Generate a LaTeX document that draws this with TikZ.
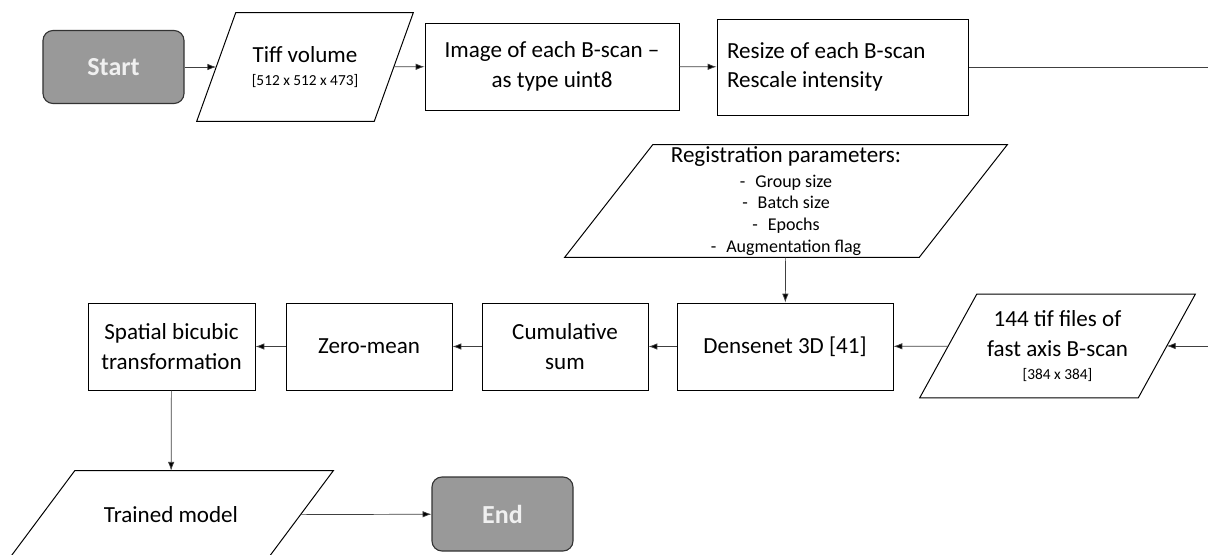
\documentclass[tikz,border=0pt]{standalone}
\usepackage{fontspec}
\setmainfont{Carlito}
\usetikzlibrary{positioning,arrows.meta}

\newcommand{\mainsize}{\fontsize{16.4}{21}\selectfont}
\newcommand{\itemsize}{\fontsize{12.8}{15.6}\selectfont}
\newcommand{\tinysize}{\fontsize{10.9}{13}\selectfont}

\begin{document}
\begin{tikzpicture}[x=0.25mm,y=-0.25mm,
  box/.style={rectangle,draw,line width=0.7pt,inner sep=0pt,align=center,font=\mainsize},
  io/.style={rectangle,inner sep=0pt,align=center,font=\mainsize,
    append after command={\pgfextra{\draw[line width=0.7pt]
      ([xshift=-#1/2]\tikzlastnode.south west) -- ([xshift=-#1/2]\tikzlastnode.south east) --
      ([xshift=#1/2]\tikzlastnode.north east) -- ([xshift=#1/2]\tikzlastnode.north west) -- cycle;}}},
  term/.style={rectangle,rounded corners=2.5mm,draw=black!80,fill=black!40,line width=0.8pt,text=black!6,
    minimum width=35.25mm,font=\fontsize{18.5}{22}\selectfont\bfseries},
  >={Latex[length=2.2mm,width=1.6mm]},
  link/.style={draw=black!75,line width=0.5pt}]
 \useasboundingbox (0,0) rectangle (1208,554);

 % top row
 \node[term,minimum height=18.25mm] (start) at (113.5,67) {Start};
 \node[io=9.75mm,minimum width=44.25mm,minimum height=27mm] (tiff) at (305,67)
   {Tiff volume\\[-4.6pt]{\tinysize [512 x 512 x 473]}};
 \node[box,minimum width=63.5mm,minimum height=21.75mm] (image) at (552,66.5) {Image of each B-scan --\\as type uint8};
 \node[box,minimum width=62.75mm,minimum height=24mm,align=flush left,text width=57.75mm] (resize) at (842.5,67)
   {Resize of each B-scan\\Rescale intensity};
 \coordinate (outR) at (1208,67);

 % middle row
 \node[io=22mm,minimum width=88.5mm,minimum height=28mm] (params) at (786,201)
   {Registration parameters:\\[-3.2pt]
    {\itemsize -\hspace{2.5mm}Group size}\\[-5.4pt]
    {\itemsize -\hspace{2.5mm}Batch size}\\[-5.4pt]
    {\itemsize -\hspace{2.5mm}Epochs}\\[-5.4pt]
    {\itemsize -\hspace{2.5mm}Augmentation flag}};
 \node[io=14.25mm,minimum width=54.5mm,minimum height=25.75mm] (tifs) at (1057.5,346)
   {144 tif files of\\fast axis B-scan\\[-4.6pt]{\tinysize [384 x 384]}};
 \coordinate (inR) at (1208,346);
 \node[box,minimum width=54mm,minimum height=21.75mm] (densenet) at (785,346.5) {Densenet 3D [41]};
 \node[box,minimum width=41.5mm,minimum height=21.75mm] (cumsum) at (565,346.5) {Cumulative\\sum};
 \node[box,minimum width=41.5mm,minimum height=21.75mm] (zeromean) at (369,346.5) {Zero-mean};
 \node[box,minimum width=41.75mm,minimum height=21.75mm] (spatial) at (171.5,346.5) {Spatial bicubic\\transformation};

 % bottom row
 \node[io=16.5mm,minimum width=64.5mm,minimum height=22mm] (trained) at (171,515) {Trained model};
 \node[term,minimum height=18.5mm] (stop) at (502.5,514) {End};

\path[link] (start) edge [->] (tiff);
\path[link] (tiff) edge [->] (image);
\path[link] (image) edge [->] (resize);
\path[link] (resize.east) edge (outR);
\path[link] (inR) edge [->] (tifs);
\path[link] (params) edge [->] (densenet);
\path[link] (tifs) edge [->] (densenet);
\path[link] (densenet) edge [->] (cumsum);
\path[link] (cumsum) edge [->] (zeromean);
\path[link] (zeromean) edge [->] (spatial);
\path[link] (spatial) edge [->] (trained);
\path[link] (trained) edge [->] (stop);
\end{tikzpicture}
\end{document}
